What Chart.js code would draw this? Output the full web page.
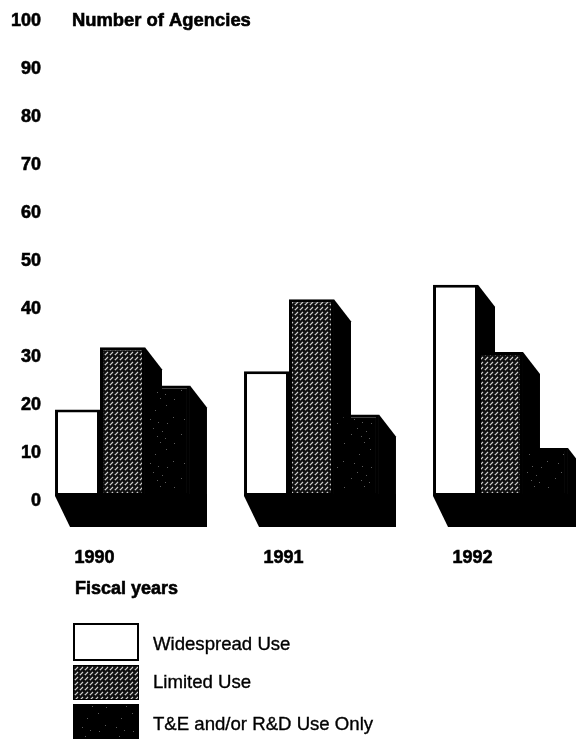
<!DOCTYPE html>
<html>
<head>
<meta charset="utf-8">
<style>
html,body{margin:0;padding:0;background:#fff;width:576px;height:739px;overflow:hidden}
canvas{display:block;filter:blur(0.55px)}
</style>
<script src="https://cdn.jsdelivr.net/npm/chart.js@4/dist/chart.umd.min.js"></script>
</head>
<body>
<canvas id="c" width="640" height="739" style="width:640px;height:739px"></canvas>
<script>
const categories = ['1990', '1991', '1992'];
const seriesNames = ['Widespread Use', 'Limited Use', 'T&E and/or R&D Use Only'];
const widespread = [18, 26, 44];
const limited = [31, 41, 30];
const testOnly = [23, 17, 10];
const yTitle = 'Number of Agencies';
const xTitle = 'Fiscal years';

const INK = '#000';
const FAMILY = '"Liberation Sans", Arial, sans-serif';
const SIDE = {dx: 17, dy: 22};
const FLOOR = {dxL: 15, dxR: 17, dy: 31};

function tile(w, h, paint) {
  const t = document.createElement('canvas');
  t.width = w; t.height = h;
  paint(t.getContext('2d'));
  return t.getContext('2d').createPattern(t, 'repeat');
}
const ctxMain = document.getElementById('c').getContext('2d');
const hatch = tile(5, 5, g => {
  g.fillStyle = '#101010'; g.fillRect(0, 0, 5, 5);
  g.strokeStyle = '#d2d2d2'; g.lineWidth = 1.2;
  g.beginPath();
  g.moveTo(-1, 6); g.lineTo(3, 2);
  g.moveTo(4, 6); g.lineTo(8, 2);
  g.moveTo(-1, 1); g.lineTo(3, -3);
  g.stroke();
});
const specks = tile(34, 44, g => {
  g.fillStyle = '#000'; g.fillRect(0, 0, 34, 44);
  g.fillStyle = '#5c5c5c';
  [[4,3],[24,2],[30,9],[19,14],[3,21],[14,23],[22,26],[31,27],
   [17,32],[26,35],[11,38],[21,40],[29,42]].forEach(p => g.fillRect(p[0], p[1], 1, 1));
});

function poly(ctx, pts) {
  ctx.beginPath();
  pts.forEach((p, i) => i ? ctx.lineTo(p[0], p[1]) : ctx.moveTo(p[0], p[1]));
  ctx.closePath();
  ctx.fill();
}
function heavyText(ctx, text, x, y, width) {
  ctx.lineWidth = width;
  ctx.fillText(text, x, y);
  ctx.strokeText(text, x, y);
}

const depthPlugin = {
  id: 'depth',
  beforeDatasetsDraw(chart) {
    const ctx = chart.ctx;
    const first = chart.getDatasetMeta(0).data;
    const last = chart.getDatasetMeta(2).data;
    ctx.save();
    ctx.fillStyle = INK;
    first.forEach((el, i) => {
      const l = el.x - el.width / 2;
      const r = last[i].x + last[i].width / 2;
      const b = el.base;
      poly(ctx, [[l, b - 2], [r + FLOOR.dxR, b - 2], [r + FLOOR.dxR, b + FLOOR.dy], [l + FLOOR.dxL, b + FLOOR.dy], [l, b]]);
    });
    // bars go left to right, so each front face covers the side of the bar before it
    chart.data.datasets.forEach((ds, i) => {
      chart.getDatasetMeta(i).data.forEach(el => {
        const r = el.x + el.width / 2;
        ctx.fillStyle = INK;
        poly(ctx, [[r, el.y], [r + SIDE.dx, el.y + SIDE.dy], [r + SIDE.dx, el.base + 10], [r, el.base]]);
        el.draw(ctx, chart.chartArea);
      });
    });
    ctx.restore();
  },
  beforeDatasetDraw() { return false; },
  afterDraw(chart) {
    const ctx = chart.ctx;
    ctx.save();
    ctx.fillStyle = INK;
    ctx.strokeStyle = INK;
    ctx.textBaseline = 'middle';
    ctx.textAlign = 'left';
    ctx.font = 'bold 18.4px ' + FAMILY;
    heavyText(ctx, yTitle, 72, 21, 0.6);
    ctx.font = 'bold 18px ' + FAMILY;
    heavyText(ctx, xTitle, 75, 589, 0.6);
    const rows = [[623, 38, 645], [665, 35, 683], [704, 35, 725]];
    chart.data.datasets.forEach((ds, i) => {
      const [top, h, ty] = rows[i];
      ctx.fillStyle = INK;
      ctx.fillRect(73, top, 66, h);
      ctx.fillStyle = ds.backgroundColor;
      if (i === 0) ctx.fillRect(75, top + 2, 62, h - 4);
      else if (i === 1) ctx.fillRect(74, top + 1, 64, h - 2);
      else ctx.fillRect(73, top, 66, h);
      ctx.fillStyle = INK;
      ctx.font = '18.6px ' + FAMILY;
      heavyText(ctx, ds.label, 153, ty, 0.35);
    });
    ctx.restore();
  }
};

new Chart(ctxMain, {
  type: 'bar',
  data: {
    labels: categories,
    datasets: [
      {label: seriesNames[0], data: widespread, backgroundColor: '#ffffff'},
      {label: seriesNames[1], data: limited, backgroundColor: hatch},
      {label: seriesNames[2], data: testOnly, backgroundColor: specks}
    ]
  },
  plugins: [depthPlugin],
  options: {
    responsive: false,
    animation: false,
    devicePixelRatio: 1,
    layout: {padding: {left: 0, top: 16, right: 45, bottom: 0}},
    datasets: {bar: {barPercentage: 1, categoryPercentage: 0.714, borderColor: INK, borderWidth: 3, borderSkipped: false}},
    plugins: {legend: {display: false}, tooltip: {enabled: false}, title: {display: false}},
    scales: {
      x: {
        grid: {display: false, drawTicks: false},
        border: {display: false},
        afterFit(s) { s.height = 243; },
        ticks: {font: {family: FAMILY, size: 18, weight: 'bold'}, color: INK, textStrokeColor: INK, textStrokeWidth: 0.6, padding: 51, labelOffset: -28, maxRotation: 0, autoSkip: false}
      },
      y: {
        min: 0, max: 100,
        grid: {display: false, drawTicks: false},
        border: {display: false},
        afterFit(s) { s.width = 28; s._computeLabelArea = () => undefined; },
        ticks: {stepSize: 10, font: {family: FAMILY, size: 18, weight: 'bold'}, color: INK, textStrokeColor: INK, textStrokeWidth: 0.6, padding: -13, labelOffset: 5}
      }
    }
  }
});
</script>
</body>
</html>
